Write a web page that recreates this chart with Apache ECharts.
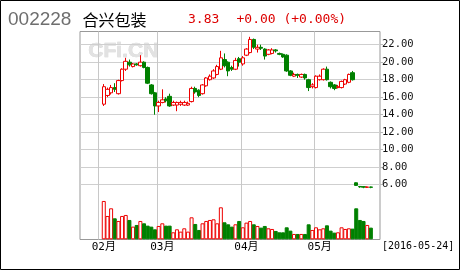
<!DOCTYPE html>
<html>
<head>
<meta charset="utf-8">
<script src="https://cdn.jsdelivr.net/npm/echarts@6/dist/echarts.min.js"></script>
<style>
html,body{margin:0;padding:0;background:#fff;}
#chart{width:460px;height:270px;}
</style>
</head>
<body>
<div id="chart"></div>
<script>
// date slots on the axis (leading/trailing dates carry no data)
const dates = [
  '2016-01-22','2016-01-25','2016-01-26','2016-01-27','2016-01-28','2016-01-29',
  '2016-02-01','2016-02-02','2016-02-03','2016-02-04','2016-02-05',
  '2016-02-15','2016-02-16','2016-02-17','2016-02-18','2016-02-19',
  '2016-02-22','2016-02-23','2016-02-24','2016-02-25','2016-02-26','2016-02-29',
  '2016-03-01','2016-03-02','2016-03-03','2016-03-04',
  '2016-03-07','2016-03-08','2016-03-09','2016-03-10','2016-03-11',
  '2016-03-14','2016-03-15','2016-03-16','2016-03-17','2016-03-18',
  '2016-03-21','2016-03-22','2016-03-23','2016-03-24','2016-03-25',
  '2016-03-28','2016-03-29','2016-03-30','2016-03-31',
  '2016-04-01','2016-04-05','2016-04-06','2016-04-07','2016-04-08',
  '2016-04-11','2016-04-12','2016-04-13','2016-04-14','2016-04-15',
  '2016-04-18','2016-04-19','2016-04-20','2016-04-21','2016-04-22',
  '2016-04-25','2016-04-26','2016-04-27','2016-04-28','2016-04-29',
  '2016-05-03','2016-05-04','2016-05-05','2016-05-06',
  '2016-05-09','2016-05-10','2016-05-11','2016-05-12','2016-05-13',
  '2016-05-16','2016-05-17','2016-05-18','2016-05-19','2016-05-20',
  '2016-05-23','2016-05-24','2016-05-25'
];
const firstTradeDate = '2016-02-01';
const opens = [15.2,16.2,16.5,17.1,16.4,17.9,19.2,20.0,19.5,19.8,19.6,20.0,19.4,17.4,16.5,15.0,15.4,15.8,16.1,15.1,
  15.1,15.2,15.1,15.1,15.5,17.0,16.8,16.4,17.3,18.0,18.2,18.6,19.2,20.3,20.0,19.4,19.2,20.4,19.8,20.8,
  21.1,22.6,21.5,21.7,21.5,20.9,21.0,21.4,21.0,20.9,20.8,19.0,18.4,18.6,18.3,18.6,18.0,17.2,17.1,18.0,
  18.0,19.2,17.7,17.4,17.1,17.1,17.5,17.7,18.8,6.22,5.80,5.78,5.70,5.74];
const closes = [17.2,16.9,17.1,16.9,17.9,19.2,20.1,19.7,19.8,19.7,20.0,19.4,17.6,16.4,15.0,15.4,15.7,15.6,15.0,15.4,
  15.4,15.4,15.4,15.3,17.0,16.6,16.2,17.4,18.2,18.4,19.0,19.5,20.5,19.6,19.0,19.2,20.2,20.0,20.5,21.5,
  22.6,21.7,21.7,21.6,20.7,21.4,21.4,21.3,20.9,20.6,19.0,18.5,18.6,18.5,18.6,18.2,17.1,17.4,18.4,18.4,
  19.2,18.0,17.2,17.0,17.2,17.8,18.0,18.6,18.0,5.92,5.75,5.72,5.74,5.70];
const lows = [15.0,16.0,16.3,16.6,16.3,17.8,19.0,19.5,19.4,19.6,19.5,19.3,17.5,16.3,14.0,14.3,15.3,15.4,14.9,15.0,
  14.4,15.0,15.0,15.0,15.4,16.4,16.0,16.3,17.2,17.9,18.1,18.5,19.1,19.4,18.4,19.0,19.1,19.5,19.6,20.7,
  21.0,21.5,21.1,21.4,20.3,20.8,20.9,21.1,20.8,20.5,18.9,18.4,18.3,18.2,18.2,18.0,16.7,17.0,17.0,17.9,
  17.9,17.9,17.0,16.8,17.0,17.0,17.4,17.6,17.9,5.88,5.65,5.60,5.62,5.60];
const highs = [17.5,17.1,17.4,17.6,18.0,19.3,20.5,20.3,19.9,19.9,20.8,20.1,19.5,17.5,16.6,15.6,16.9,16.0,16.4,15.6,
  15.5,15.6,15.6,15.5,17.2,17.2,16.9,17.5,18.3,18.6,19.2,19.7,21.3,21.0,20.1,19.6,20.5,20.6,20.7,21.6,
  22.9,22.7,22.0,22.0,21.6,21.5,21.6,21.5,21.1,21.0,20.9,19.1,18.8,18.7,18.7,18.7,18.1,17.6,18.5,18.6,
  19.3,19.5,17.8,17.5,17.4,17.9,18.1,18.7,19.0,6.27,5.85,5.82,5.80,5.78];
const volumes = [115,70,93,63,55,70,73,58,38,43,55,48,41,38,30,40,48,41,41,21,
  30,23,33,23,66,46,28,48,55,58,60,48,96,51,45,38,45,55,36,50,
  55,45,40,35,40,33,31,25,21,21,36,26,16,16,16,16,45,28,36,30,
  33,42,26,20,21,36,31,33,32,93,58,55,43,35];
const priceTicks = [6,8,10,12,14,16,18,20,22];

const titleCode = '002228';
const titleName = '合兴包装';
const titlePrice = '3.83';
const titleChange = '+0.00 (+0.00%)';
const dateStamp = '[2016-05-24]';

const UP = '#ee0000', DOWN = '#008000';
const start = dates.indexOf(firstTradeDate);
const candleData = opens.map((o, i) => [dates[start + i], o, closes[i], lows[i], highs[i]]);
const volData = volumes.map((v, i) => {
  const up = closes[i] >= opens[i];
  return {
    value: [dates[start + i], v],
    itemStyle: up ? {color: '#fff', borderColor: UP, borderWidth: 1}
                  : {color: DOWN, borderColor: DOWN, borderWidth: 1}
  };
});
const isMonthFirst = (idx) => idx >= start && idx > 0 && dates[idx].slice(5, 7) !== dates[idx - 1].slice(5, 7);
const isMonthLast = (idx) => idx + 1 < dates.length && dates[idx].slice(5, 7) !== dates[idx + 1].slice(5, 7);
const monthLineIdx = dates.map((d, i) => i).filter((i) => isMonthLast(i));

const monoFont = "'DejaVu Sans Mono', 'Noto Sans CJK SC', monospace";
const FRAME_TOP = 31.5, FRAME_BOTTOM = 239.5;
const chart = echarts.init(document.getElementById('chart'), null, {renderer: 'canvas'});
chart.setOption({
  animation: false,
  backgroundColor: '#fff',
  grid: [
    {left: 80, right: 80, top: FRAME_TOP, bottom: 270 - FRAME_BOTTOM, show: true, borderColor: '#999', borderWidth: 1, backgroundColor: 'transparent'},
    {left: 80, right: 80, top: 44.7, height: 140},
    {left: 80, right: 80, bottom: 270 - FRAME_BOTTOM + 0.2, height: 40}
  ],
  xAxis: [
    {type: 'category', gridIndex: 0, data: dates, boundaryGap: true,
     axisLine: {show: false}, axisTick: {show: false}, splitLine: {show: false},
     axisLabel: {interval: (idx) => isMonthFirst(idx), formatter: (v) => v.slice(5, 7) + '月',
       color: '#000', fontSize: 11, fontFamily: monoFont, margin: 2}},
    {type: 'category', gridIndex: 1, data: dates, boundaryGap: true, show: false},
    {type: 'category', gridIndex: 2, data: dates, boundaryGap: true, show: false}
  ],
  yAxis: [
    {type: 'value', gridIndex: 0, show: false, min: 0, max: 1, splitLine: {show: false}},
    {type: 'value', gridIndex: 1, position: 'right', min: priceTicks[0], max: priceTicks[priceTicks.length - 1], interval: 2,
     axisLine: {show: false},
     axisTick: {show: true, length: 3, lineStyle: {color: '#bbb'}},
     splitLine: {show: true, lineStyle: {color: '#cfcfcf', width: 1}},
     axisLabel: {formatter: (v) => v.toFixed(2), color: '#111', fontSize: 10.5, fontFamily: monoFont, margin: 2}},
    {type: 'value', gridIndex: 2, show: false, min: 0, max: 120, splitLine: {show: false}}
  ],
  series: [
    {type: 'candlestick', xAxisIndex: 1, yAxisIndex: 1, data: candleData, clip: false, z: 3,
     encode: {x: 0, y: [1, 2, 3, 4]}, barWidth: 4,
     itemStyle: {color: '#fff', color0: DOWN, borderColor: UP, borderColor0: DOWN, borderWidth: 1}},
    {type: 'bar', xAxisIndex: 2, yAxisIndex: 2, data: volData, barWidth: 4, z: 3, encode: {x: 0, y: 1}}
  ]
});

const elements = [
  {type: 'rect', silent: true, z: 100, shape: {x: 0.5, y: 0.5, width: 459, height: 269},
   style: {fill: 'none', stroke: '#000', lineWidth: 1}},
  {type: 'text', z: -1, left: 88, top: 40, silent: true,
   style: {text: 'CFi.CN', font: 'bold 21px "Liberation Sans", Arial, sans-serif', fill: '#e2e2e2', stroke: '#d2d2d2', lineWidth: 0.6}}
];
// month separator lines, placed through the category axis scale
try {
  monthLineIdx.forEach((idx) => {
    const c0 = chart.convertToPixel({xAxisIndex: 0}, dates[idx]);
    const c1 = chart.convertToPixel({xAxisIndex: 0}, dates[idx + 1]);
    const x = Math.round(c0 - (c1 - c0) / 2) + 0.5;
    elements.push({type: 'line', silent: true, z: 1,
      shape: {x1: x, y1: FRAME_TOP, x2: x, y2: FRAME_BOTTOM},
      style: {stroke: '#c8c8c8', lineWidth: 1}});
  });
} catch (e) {}
elements.push(
  {type: 'text', silent: true, z: 200, style: {text: titleCode, x: 8, y: 19.5, verticalAlign: 'middle',
    font: '19px "Liberation Sans", Arial, sans-serif', fill: '#6e6e6e'}},
  {type: 'text', silent: true, z: 200, style: {text: titleName, x: 82.5, y: 19.5, verticalAlign: 'middle',
    font: '16px "Noto Sans CJK SC", sans-serif', fill: '#000'}},
  {type: 'text', silent: true, z: 200, style: {text: titlePrice, x: 188, y: 19.5, verticalAlign: 'middle',
    font: '13px ' + monoFont, fill: '#dd0000'}},
  {type: 'text', silent: true, z: 200, style: {text: titleChange, x: 236.5, y: 19.5, verticalAlign: 'middle',
    font: '13px ' + monoFont, fill: '#dd0000'}},
  {type: 'text', silent: true, z: 200, style: {text: dateStamp, x: 382, y: 246.5, verticalAlign: 'middle',
    font: '10px ' + monoFont, fill: '#000'}}
);
chart.setOption({graphic: {elements: elements}});
</script>
</body>
</html>
